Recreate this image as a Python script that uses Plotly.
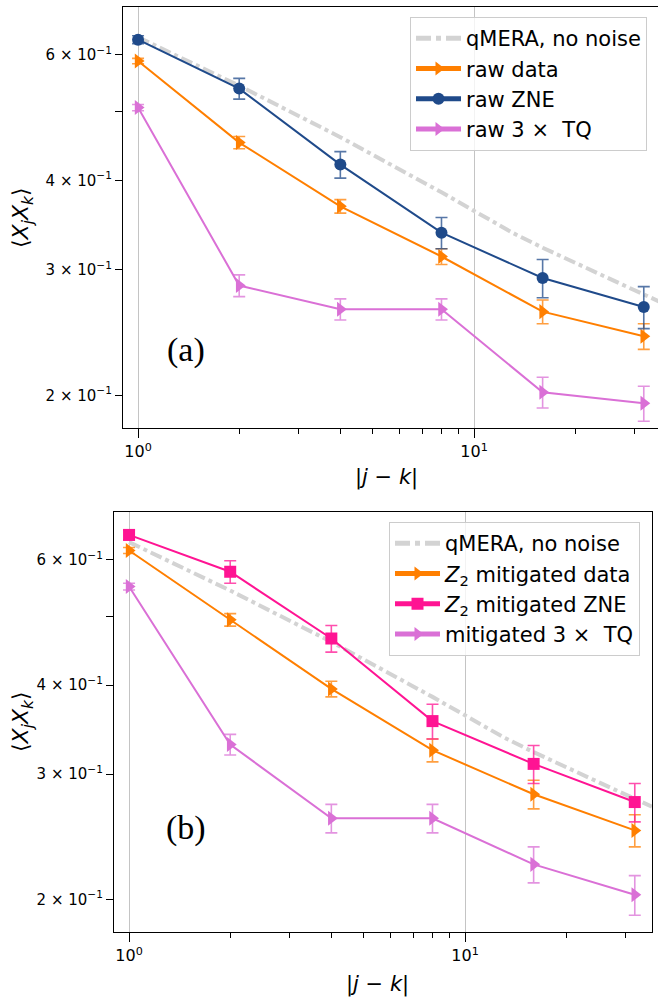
import plotly.graph_objects as go
import math

W, H = 658, 998

# ---------------- data ----------------
dist = [1, 2, 4, 8, 16, 32]
qmera_x = [1, 2, 4, 8, 13, 16, 28, 32, 36]
qmera_y = [0.635, 0.543, 0.460, 0.385, 0.338, 0.322, 0.285, 0.277, 0.270]

raw_data = [0.588, 0.452, 0.368, 0.313, 0.262, 0.242]
raw_data_err = [0.005, 0.009, 0.008, 0.008, 0.010, 0.010]
raw_zne = [0.630, 0.538, 0.421, 0.338, 0.292, 0.266]
raw_zne_err = [0.008, 0.018, 0.018, 0.017, 0.018, 0.018]
raw_tq = [0.506, 0.285, 0.264, 0.264, 0.202, 0.195]
raw_tq_err = [0.005, 0.010, 0.009, 0.009, 0.010, 0.011]

mit_data = [0.618, 0.494, 0.395, 0.324, 0.281, 0.250]
mit_data_err = [0.006, 0.010, 0.010, 0.012, 0.013, 0.013]
mit_zne = [0.650, 0.577, 0.465, 0.356, 0.310, 0.274]
mit_zne_err = [0.010, 0.021, 0.020, 0.020, 0.019, 0.017]
mit_tq = [0.550, 0.330, 0.260, 0.260, 0.224, 0.203]
mit_tq_err = [0.006, 0.011, 0.012, 0.012, 0.013, 0.013]

ytick_vals = [0.2, 0.3, 0.4, 0.5, 0.6]
ytick_text = ["2 × 10<sup>−1</sup>", "3 × 10<sup>−1</sup>", "4 × 10<sup>−1</sup>", "",
              "6 × 10<sup>−1</sup>"]
xtick_vals = [1, 10]
xtick_text = ["10<sup>0</sup>", "10<sup>1</sup>"]
xminor_vals = [2, 3, 4, 5, 6, 7, 8, 9, 20, 30]

ORANGE = "#FF7F00"
BLUE = "#1F4A8A"
ORCHID = "#DA70D6"
PINK = "#FF1493"
GRAY = "#D3D3D3"


def err_color(hexc, a=0.75):
    h = hexc.lstrip("#")
    r, g, b = int(h[0:2], 16), int(h[2:4], 16), int(h[4:6], 16)
    return f"rgba({r},{g},{b},{a})"


fig = go.Figure()


def add_series(x, y, err, name, color, symbol, xa, ya, legend, size=12):
    fig.add_trace(go.Scatter(
        x=x, y=y, name=name, mode="lines+markers", legendgroup=name + ya,
        line=dict(color=color, width=2),
        marker=dict(color=color, symbol=symbol, size=size),
        error_y=dict(type="data", array=err, visible=True,
                     color=err_color(color), thickness=1.6, width=6),
        xaxis=xa, yaxis=ya, legend=legend))


def add_qmera(xa, ya, legend):
    fig.add_trace(go.Scatter(
        x=qmera_x, y=qmera_y, name="qMERA, no noise", mode="lines",
        legendgroup="q" + ya,
        line=dict(color=GRAY, width=4, dash="dashdot"),
        xaxis=xa, yaxis=ya, legend=legend))


# top panel
add_qmera("x", "y", "legend")
add_series(dist, raw_data, raw_data_err, "raw data", ORANGE, "triangle-right", "x", "y", "legend", 13)
add_series(dist, raw_zne, raw_zne_err, "raw ZNE", BLUE, "circle", "x", "y", "legend")
add_series(dist, raw_tq, raw_tq_err, "raw 3 ×  TQ", ORCHID, "triangle-right", "x", "y", "legend", 13)

# bottom panel
add_qmera("x2", "y2", "legend2")
add_series(dist, mit_data, mit_data_err, "<i>Z</i><sub>2</sub> mitigated data", ORANGE,
           "triangle-right", "x2", "y2", "legend2", 13)
add_series(dist, mit_zne, mit_zne_err, "<i>Z</i><sub>2</sub> mitigated ZNE", PINK,
           "square", "x2", "y2", "legend2")
add_series(dist, mit_tq, mit_tq_err, "mitigated 3 ×  TQ", ORCHID,
           "triangle-right", "x2", "y2", "legend2", 13)

yrange = [math.log10(0.180), math.log10(0.700)]


def xaxis_cfg(domain, rng, anchor, mirror):
    return dict(
        type="log", domain=domain, range=rng, anchor=anchor,
        tickmode="array", tickvals=xtick_vals, ticktext=xtick_text,
        ticks="outside", ticklen=9, tickwidth=1.2, tickcolor="black",
        showgrid=True, gridcolor="#C4C4C4", gridwidth=1.2,
        showline=True, linecolor="black", linewidth=1.3, mirror=mirror,
        tickfont=dict(family="DejaVu Sans", size=16, color="black"),
        minor=dict(tickvals=xminor_vals, ticks="outside", ticklen=5,
                   tickwidth=1, tickcolor="black", showgrid=False),
        zeroline=False)


def yaxis_cfg(domain, anchor, mirror):
    return dict(
        type="log", domain=domain, range=yrange, anchor=anchor,
        tickmode="array", tickvals=ytick_vals, ticktext=ytick_text,
        ticks="outside", ticklen=7, tickwidth=1.1, tickcolor="black",
        showgrid=False, showline=True, linecolor="black", linewidth=1.3,
        mirror=mirror,
        tickfont=dict(family="DejaVu Sans", size=15, color="black"),
        zeroline=False)


top_xdom = [123 / W, 1.0]
top_ydom = [1 - 428 / H, 1 - 7 / H]
bot_xdom = [114 / W, 652 / W]
bot_ydom = [1 - 932 / H, 1 - 512 / H]

top_xr = [math.log10(0.902), math.log10(0.902) + (W - 123) / 336]
bot_xr = [math.log10(0.902), math.log10(0.902) + (652 - 114) / 336]

legend_common = dict(
    bgcolor="rgba(255,255,255,0.8)", bordercolor="#CCCCCC", borderwidth=1,
    font=dict(family="DejaVu Sans", size=21, color="black"),
    xanchor="left", yanchor="top", itemwidth=45, tracegroupgap=0,
    itemsizing="constant")

fig.update_layout(
    width=W, height=H,
    margin=dict(l=0, r=0, t=0, b=0),
    paper_bgcolor="white", plot_bgcolor="white",
    showlegend=True,
    xaxis=xaxis_cfg(top_xdom, top_xr, "y", True),
    yaxis=yaxis_cfg(top_ydom, "x", False),
    xaxis2=xaxis_cfg(bot_xdom, bot_xr, "y2", True),
    yaxis2=yaxis_cfg(bot_ydom, "x2", True),
    legend=dict(x=410 / W, y=1 - 17 / H, **legend_common),
    legend2=dict(x=389 / W, y=1 - 522 / H, **legend_common),
)

annos = [
    dict(text="(a)", x=186 / W, y=1 - 350 / H),
    dict(text="(b)", x=186 / W, y=1 - 828 / H),
]
for a in annos:
    fig.add_annotation(text=a["text"], x=a["x"], y=a["y"], xref="paper", yref="paper",
                       showarrow=False, xanchor="center", yanchor="middle",
                       font=dict(family="Liberation Serif", size=34, color="black"))

for yc in [218, 722]:
    fig.add_annotation(text="⟨<i>X<sub>j</sub>X<sub>k</sub></i>⟩", x=22 / W, y=1 - yc / H,
                       xref="paper", yref="paper", showarrow=False, textangle=-90,
                       xanchor="center", yanchor="middle",
                       font=dict(family="DejaVu Sans", size=22, color="black"))

for xc, yc in [(386, 478), (377, 984)]:
    fig.add_annotation(text="|<i>j</i> − <i>k</i>|", x=xc / W, y=1 - yc / H,
                       xref="paper", yref="paper", showarrow=False,
                       xanchor="center", yanchor="middle",
                       font=dict(family="DejaVu Sans", size=21, color="black"))

fig.write_html("out.html")
